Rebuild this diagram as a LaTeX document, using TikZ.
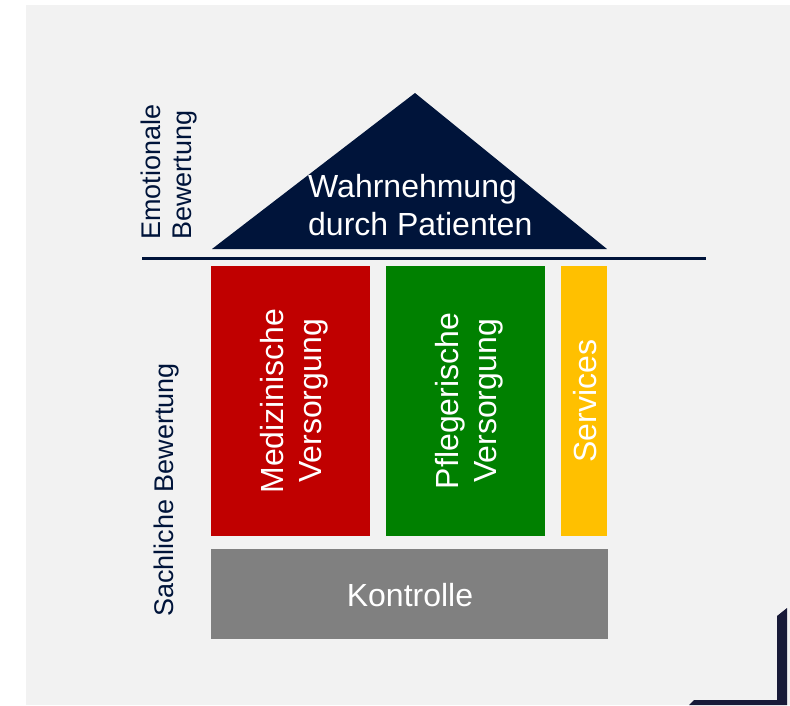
\documentclass[tikz,border=0pt]{standalone}
\usepackage{fontspec}
\setmainfont{Liberation Sans}
\definecolor{bggray}{HTML}{F2F2F2}
\definecolor{navy}{RGB}{0,20,58}
\definecolor{frame}{RGB}{24,26,56}
\definecolor{redbox}{HTML}{C00000}
\definecolor{greenbox}{HTML}{008000}
\definecolor{yellowbox}{HTML}{FFC000}
\definecolor{graybox}{HTML}{808080}
\begin{document}
\begin{tikzpicture}[x=1pt,y=-1pt,
  bigtext/.style={text=white,font=\fontsize{32}{38}\selectfont,align=center},
  sidetext/.style={text=navy,font=\fontsize{27}{31}\selectfont,rotate=90}]
\useasboundingbox (0,0) rectangle (790,705);
\fill[white] (0,0) rectangle (790,705);
\fill[bggray] (26,5) rectangle (790,705);
% frame corner
\fill[frame] (689,705) -- (694,700) -- (777,700) -- (777,616) -- (787,608) -- (787,705) -- cycle;
% roof
\coordinate (apex) at (415,93);
\coordinate (bl) at (212,249);
\coordinate (br) at (607,249);
\fill[navy] (apex) -- (br) -- (bl) -- cycle;
\node[bigtext,align=left,anchor=north west,inner sep=0pt] (roof) at (308,174) {Wahrnehmung\\durch Patienten};
% separator
\coordinate (sepL) at (142,258);
\coordinate (sepR) at (706,258);
\draw[navy,line width=3pt] (sepL) -- (sepR);
% pillars
\fill[redbox] (211,266) rectangle (370,536);
\fill[greenbox] (386,266) rectangle (545,536);
\fill[yellowbox] (561,266) rectangle (607,536);
\fill[graybox] (211,549) rectangle (608,639);
\node[bigtext,rotate=90] (med) at (294,401) {Medizinische\\Versorgung};
\node[bigtext,rotate=90] (pfl) at (469,401) {Pflegerische\\Versorgung};
\node[bigtext,rotate=90] (serv) at (585,401) {Services};
\node[bigtext] (kon) at (410,595) {Kontrolle};
% side labels
\node[sidetext,align=left] (emo) at (169,172) {Emotionale\\Bewertung};
\node[sidetext] (sach) at (167,490) {Sachliche Bewertung};
\end{tikzpicture}
\end{document}
